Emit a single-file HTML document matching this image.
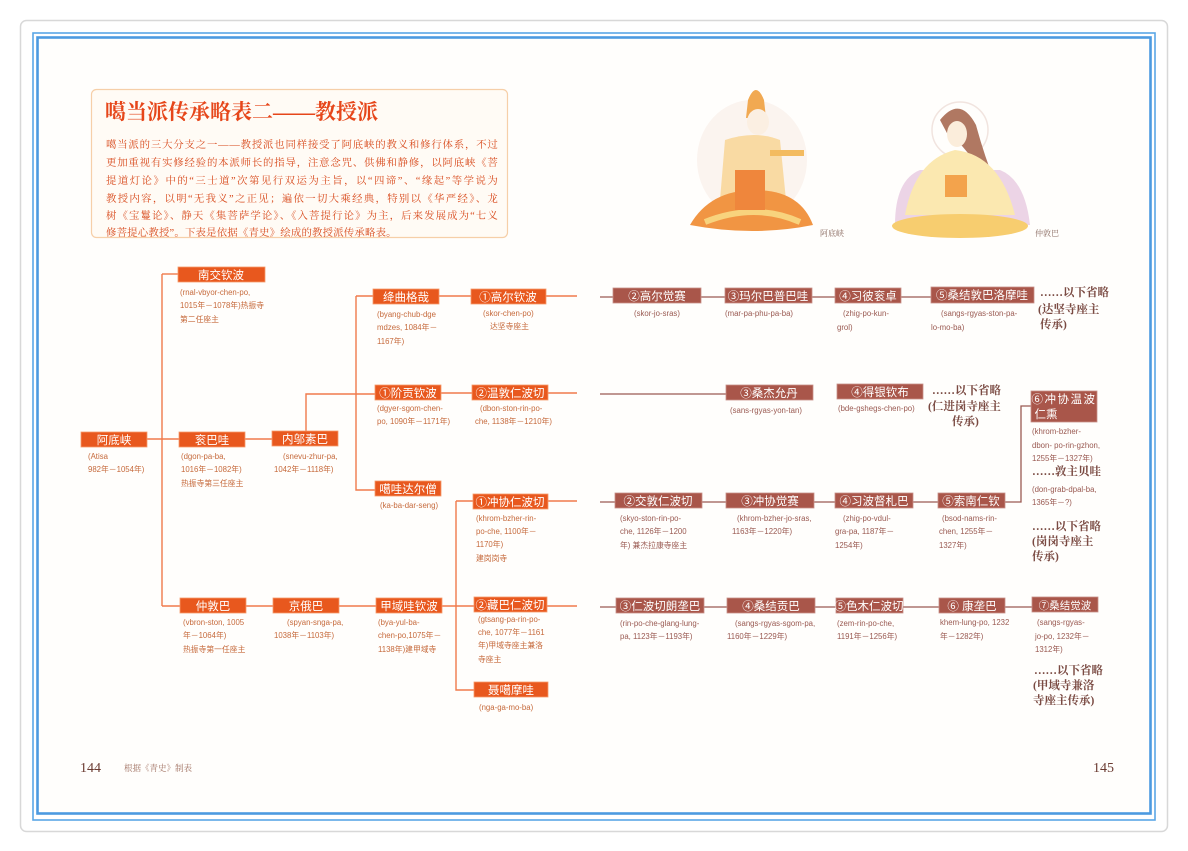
<!DOCTYPE html>
<html><head><meta charset="utf-8">
<style>
html,body{margin:0;padding:0;background:#fff;}
svg{display:block;}
.bt{font-family:"Liberation Sans","Noto Sans CJK SC",sans-serif;font-size:11.5px;fill:#fff;text-anchor:middle;}
.d{font-family:"Liberation Sans","Noto Sans CJK SC",sans-serif;font-size:7.8px;fill:#c66a3c;}
.dr{font-family:"Liberation Sans","Noto Sans CJK SC",sans-serif;font-size:7.8px;fill:#9a5a52;}
.om{font-family:"Liberation Serif","Noto Serif CJK SC",serif;font-size:11.5px;fill:#7a4a42;font-weight:bold;}
.p{font-family:"Liberation Serif","Noto Serif CJK SC",serif;font-size:10.4px;fill:#d84a1c;letter-spacing:0.2px;}
</style></head><body>
<svg width="1188" height="851" viewBox="0 0 1188 851" xmlns="http://www.w3.org/2000/svg">
<rect x="0" y="0" width="1188" height="851" fill="#fff"/>
<rect x="20.5" y="20.5" width="1147" height="811" rx="6" fill="none" stroke="#d8d8d8" stroke-width="1.5"/>
<rect x="33" y="33" width="1122" height="787" fill="none" stroke="#5aa6e6" stroke-width="1.6"/>
<rect x="37.5" y="37.5" width="1113" height="776" fill="#fffefc" stroke="#4c9ae0" stroke-width="2.6"/>

<!-- header box -->
<rect x="91.5" y="89.5" width="416" height="148" rx="5" fill="#fffbf5" stroke="#f6cfa8" stroke-width="1.2"/>
<text x="105" y="119" style="font-family:'Liberation Serif','Noto Serif CJK SC',serif;font-size:21px;fill:#e6461a;font-weight:bold">噶当派传承略表二——教授派</text>
<g class="p">
<text x="106" y="148" textLength="392" lengthAdjust="spacing">噶当派的三大分支之一——教授派也同样接受了阿底峡的教义和修行体系，不过</text>
<text x="106" y="166" textLength="392" lengthAdjust="spacing">更加重视有实修经验的本派师长的指导，注意念咒、供佛和静修，以阿底峡《菩</text>
<text x="106" y="184" textLength="392" lengthAdjust="spacing">提道灯论》中的“三士道”次第见行双运为主旨，以“四谛”、“缘起”等学说为</text>
<text x="106" y="202" textLength="392" lengthAdjust="spacing">教授内容，以明“无我义”之正见；遍依一切大乘经典，特别以《华严经》、龙</text>
<text x="106" y="219" textLength="392" lengthAdjust="spacing">树《宝鬘论》、静天《集菩萨学论》、《入菩提行论》为主，后来发展成为“七义</text>
<text x="106" y="236">修菩提心教授”。下表是依据《青史》绘成的教授派传承略表。</text>
</g>

<!-- figures (approximations) -->
<g opacity="0.9">
<ellipse cx="752" cy="160" rx="55" ry="60" fill="#fbf3ee"/>
<path d="M748 100 q8-20 16 0 l2 18 h-20z" fill="#f0a040"/>
<ellipse cx="758" cy="122" rx="11" ry="13" fill="#fbeee0"/>
<path d="M725 140 q30-10 55 0 l6 60 h-66z" fill="#f9d79a"/>
<rect x="770" y="150" width="34" height="6" fill="#f2b450"/>
<path d="M690 225 q20-35 65-35 q45 0 58 35 q-60 12 -123 0z" fill="#f08a30"/>
<path d="M705 222 q50-20 95 0" stroke="#f8cf70" stroke-width="6" fill="none"/>
<rect x="735" y="170" width="30" height="40" fill="#ee7a28"/>
<ellipse cx="960" cy="130" rx="28" ry="28" fill="none" stroke="#f0e2dc" stroke-width="1.5"/>
<path d="M940 120 q20-25 36 5 q8 30 20 60 l-10 0 q-18-40 -38-50z" fill="#a86a52"/>
<ellipse cx="957" cy="134" rx="10" ry="13" fill="#fbecd8"/>
<path d="M895 225 q0-45 25-55 h80 q25 10 30 55z" fill="#ead0e4"/>
<path d="M905 215 q10-55 50-65 q45 5 60 65z" fill="#fbe6a8"/>
<ellipse cx="960" cy="226" rx="68" ry="12" fill="#f7c860"/>
<rect x="945" y="175" width="22" height="22" fill="#f29a3a"/>
</g>
<text x="820" y="236" style="font-family:'Liberation Serif','Noto Serif CJK SC',serif;font-size:8px;fill:#8a6a60">阿底峡</text>
<text x="1035" y="236" style="font-family:'Liberation Serif','Noto Serif CJK SC',serif;font-size:8px;fill:#8a6a60">仲敦巴</text>

<!-- connectors left (orange) -->
<g stroke="#f07a4c" stroke-width="1.4" fill="none">
<path d="M147 439 H179"/>
<path d="M162 274 V606"/>
<path d="M162 274 H178"/>
<path d="M162 606 H180"/>
<path d="M245 439 H272"/>
<path d="M306 439 V394 H375"/>
<path d="M356 296 V490 H375"/>
<path d="M356 296 H373"/>
<path d="M439 296 H471"/>
<path d="M546 296 H577"/>
<path d="M441 393 H472"/>
<path d="M548 393 H577"/>
<path d="M246 606 H273"/>
<path d="M339 606 H376"/>
<path d="M442 606 H474"/>
<path d="M456 501 V690 H474"/>
<path d="M456 501 H473"/>
<path d="M548 501 H577"/>
<path d="M547 606 H577"/>
</g>
<!-- connectors right (brown) -->
<g stroke="#9a5a52" stroke-width="1.3" fill="none">
<path d="M600 297 H931"/>
<path d="M600 394 H726"/>
<path d="M600 502 H938"/>
<path d="M1005 502 H1021 V406 H1031"/>
<path d="M600 607 H1032"/>
</g>

<!-- left boxes -->
<g fill="#e8581e" stroke="#f59a6a" stroke-width="0.8">
<rect x="81" y="432" width="66" height="15"/>
<rect x="178" y="267" width="87" height="15"/>
<rect x="179" y="432" width="66" height="15"/>
<rect x="272" y="431" width="66" height="15"/>
<rect x="373" y="289" width="66" height="15"/>
<rect x="375" y="385" width="66" height="15"/>
<rect x="375" y="481" width="66" height="15"/>
<rect x="471" y="289" width="75" height="15"/>
<rect x="472" y="385" width="76" height="15"/>
<rect x="473" y="494" width="75" height="15"/>
<rect x="474" y="597" width="73" height="15"/>
<rect x="474" y="682" width="74" height="15"/>
<rect x="180" y="598" width="66" height="15"/>
<rect x="273" y="598" width="66" height="15"/>
<rect x="376" y="598" width="66" height="15"/>
</g>
<g class="bt">
<text x="114" y="444">阿底峡</text>
<text x="221" y="279">南交钦波</text>
<text x="212" y="444">衮巴哇</text>
<text x="305" y="443">内邬素巴</text>
<text x="406" y="301">绛曲格哉</text>
<text x="408" y="397">①阶贡钦波</text>
<text x="408" y="493">噶哇达尔僧</text>
<text x="508" y="301">①高尔钦波</text>
<text x="510" y="397">②温敦仁波切</text>
<text x="510" y="506">①冲协仁波切</text>
<text x="510" y="609">②藏巴仁波切</text>
<text x="511" y="694">聂噶摩哇</text>
<text x="213" y="610">仲敦巴</text>
<text x="306" y="610">京俄巴</text>
<text x="409" y="610">甲域哇钦波</text>
</g>

<!-- right boxes -->
<g fill="#a9564a" stroke="#c89088" stroke-width="0.8">
<rect x="613" y="288" width="88" height="15"/>
<rect x="725" y="288" width="87" height="15"/>
<rect x="835" y="288" width="66" height="15"/>
<rect x="931" y="287" width="103" height="16"/>
<rect x="726" y="385" width="87" height="15"/>
<rect x="837" y="384" width="86" height="15"/>
<rect x="615" y="493" width="87" height="15"/>
<rect x="726" y="493" width="88" height="15"/>
<rect x="835" y="493" width="78" height="15"/>
<rect x="938" y="493" width="67" height="15"/>
<rect x="1031" y="391" width="66" height="31"/>
<rect x="616" y="598" width="88" height="15"/>
<rect x="727" y="598" width="88" height="15"/>
<rect x="836" y="598" width="67" height="15"/>
<rect x="939" y="598" width="66" height="15"/>
<rect x="1032" y="597" width="66" height="15"/>
</g>
<g class="bt">
<text x="657" y="300">②高尔觉赛</text>
<text x="768" y="300">③玛尔巴普巴哇</text>
<text x="868" y="300">④习彼衮卓</text>
<text x="982" y="299">⑤桑结敦巴洛摩哇</text>
<text x="769" y="397">③桑杰允丹</text>
<text x="880" y="396">④得银钦布</text>
<text x="658" y="505">②交敦仁波切</text>
<text x="770" y="505">③冲协觉赛</text>
<text x="874" y="505">④习波督札巴</text>
<text x="971" y="505">⑤索南仁钦</text>
<text x="1064" y="403" style="letter-spacing:1.5px">⑥冲协温波</text>
<text x="1046" y="418">仁熏</text>
<text x="660" y="610">③仁波切朗垄巴</text>
<text x="771" y="610">④桑结贡巴</text>
<text x="869" y="610">⑤色木仁波切</text>
<text x="972" y="610">⑥ 康垄巴</text>
<text x="1065" y="609" style="font-size:10.5px">⑦桑结觉波</text>
</g>

<!-- left details -->
<g class="d">
<text x="180" y="295">(rnal-vbyor-chen-po,</text>
<text x="180" y="308">1015年－1078年)热振寺</text>
<text x="180" y="322">第二任座主</text>
<text x="88" y="459">(Atisa</text>
<text x="88" y="472">982年－1054年)</text>
<text x="181" y="459">(dgon-pa-ba,</text>
<text x="181" y="472">1016年－1082年)</text>
<text x="181" y="486">热振寺第三任座主</text>
<text x="283" y="459">(snevu-zhur-pa,</text>
<text x="274" y="472">1042年－1118年)</text>
<text x="377" y="317">(byang-chub-dge</text>
<text x="377" y="330">mdzes, 1084年－</text>
<text x="377" y="344">1167年)</text>
<text x="377" y="411">(dgyer-sgom-chen-</text>
<text x="377" y="424">po, 1090年－1171年)</text>
<text x="380" y="508">(ka-ba-dar-seng)</text>
<text x="483" y="316">(skor-chen-po)</text>
<text x="490" y="329">达坚寺座主</text>
<text x="480" y="411">(dbon-ston-rin-po-</text>
<text x="475" y="424">che, 1138年－1210年)</text>
<text x="476" y="521">(khrom-bzher-rin-</text>
<text x="476" y="534">po-che, 1100年－</text>
<text x="476" y="547">1170年)</text>
<text x="476" y="561">建岗岗寺</text>
<text x="183" y="625">(vbron-ston, 1005</text>
<text x="183" y="638">年－1064年)</text>
<text x="183" y="652">热振寺第一任座主</text>
<text x="287" y="625">(spyan-snga-pa,</text>
<text x="274" y="638">1038年－1103年)</text>
<text x="378" y="625">(bya-yul-ba-</text>
<text x="378" y="638">chen-po,1075年－</text>
<text x="378" y="652">1138年)建甲域寺</text>
<text x="478" y="622">(gtsang-pa-rin-po-</text>
<text x="478" y="635">che, 1077年－1161</text>
<text x="478" y="648">年)甲域寺座主兼洛</text>
<text x="478" y="662">寺座主</text>
<text x="479" y="710">(nga-ga-mo-ba)</text>
</g>

<!-- right details -->
<g class="dr">
<text x="634" y="316">(skor-jo-sras)</text>
<text x="725" y="316">(mar-pa-phu-pa-ba)</text>
<text x="843" y="316">(zhig-po-kun-</text>
<text x="837" y="330">grol)</text>
<text x="941" y="316">(sangs-rgyas-ston-pa-</text>
<text x="931" y="330">lo-mo-ba)</text>
<text x="730" y="413">(sans-rgyas-yon-tan)</text>
<text x="838" y="411">(bde-gshegs-chen-po)</text>
<text x="1032" y="434">(khrom-bzher-</text>
<text x="1032" y="448">dbon- po-rin-gzhon,</text>
<text x="1032" y="461">1255年－1327年)</text>
<text x="1032" y="492">(don-grab-dpal-ba,</text>
<text x="1032" y="505">1365年－?)</text>
<text x="620" y="521">(skyo-ston-rin-po-</text>
<text x="620" y="534">che, 1126年－1200</text>
<text x="620" y="548">年) 兼杰拉康寺座主</text>
<text x="737" y="521">(khrom-bzher-jo-sras,</text>
<text x="732" y="534">1163年－1220年)</text>
<text x="843" y="521">(zhig-po-vdul-</text>
<text x="835" y="534">gra-pa, 1187年－</text>
<text x="835" y="548">1254年)</text>
<text x="942" y="521">(bsod-nams-rin-</text>
<text x="939" y="534">chen, 1255年－</text>
<text x="939" y="548">1327年)</text>
<text x="620" y="626">(rin-po-che-glang-lung-</text>
<text x="620" y="639">pa, 1123年－1193年)</text>
<text x="735" y="626">(sangs-rgyas-sgom-pa,</text>
<text x="727" y="639">1160年－1229年)</text>
<text x="837" y="626">(zem-rin-po-che,</text>
<text x="837" y="639">1191年－1256年)</text>
<text x="940" y="625">khem-lung-po, 1232</text>
<text x="940" y="639">年－1282年)</text>
<text x="1037" y="625">(sangs-rgyas-</text>
<text x="1035" y="639">jo-po, 1232年－</text>
<text x="1035" y="652">1312年)</text>
</g>
<g class="om">
<text x="1040" y="296">……以下省略</text>
<text x="1038" y="313">(达坚寺座主</text>
<text x="1040" y="328">传承)</text>
<text x="932" y="394">……以下省略</text>
<text x="928" y="410">(仁进岗寺座主</text>
<text x="952" y="425">传承)</text>
<text x="1032" y="475">……敦主贝哇</text>
<text x="1032" y="530">……以下省略</text>
<text x="1032" y="545">(岗岗寺座主</text>
<text x="1032" y="560">传承)</text>
<text x="1034" y="674">……以下省略</text>
<text x="1033" y="689">(甲域寺兼洛</text>
<text x="1033" y="704">寺座主传承)</text>
</g>

<text x="80" y="772" style="font-family:'Liberation Serif',serif;font-size:14px;fill:#6a3a30">144</text>
<text x="124" y="771" style="font-family:'Liberation Serif','Noto Serif CJK SC',serif;font-size:8.5px;fill:#a07060">根据《青史》制表</text>
<text x="1093" y="772" style="font-family:'Liberation Serif',serif;font-size:14px;fill:#6a3a30">145</text>
</svg>
</body></html>
